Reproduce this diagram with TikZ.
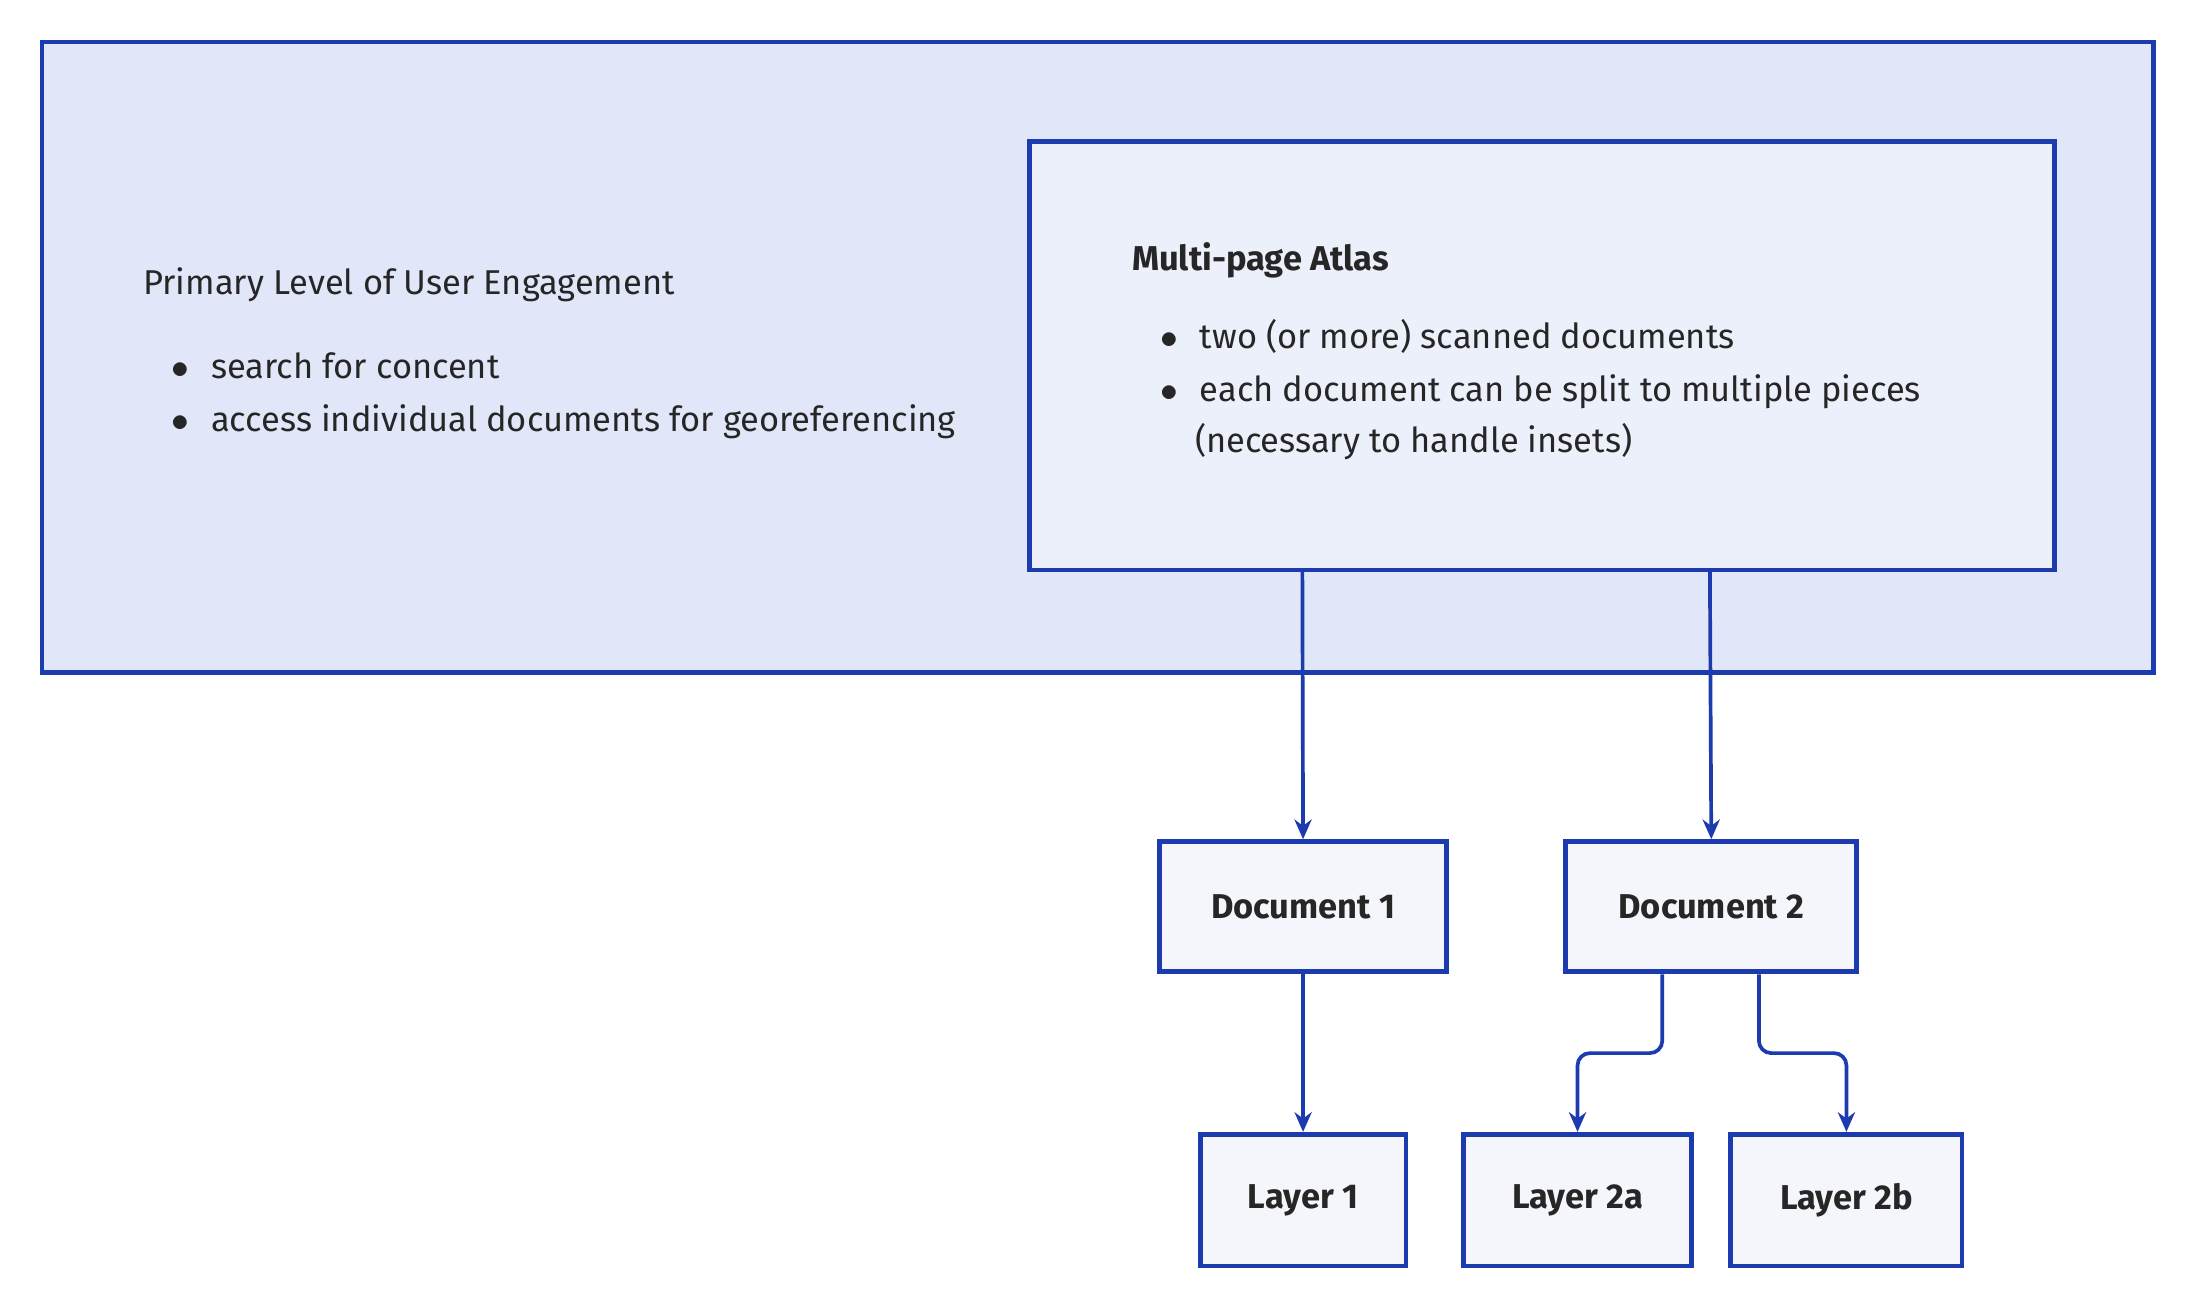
\documentclass[tikz,border=0pt]{standalone}
\usepackage{fontspec}
\setmainfont{Fira Sans}
\usetikzlibrary{arrows.meta}
\definecolor{stroke}{HTML}{1B3BAF}
\definecolor{outerfill}{HTML}{E1E7F9}
\definecolor{innerfill}{HTML}{ECF0FB}
\definecolor{boxfill}{HTML}{F4F6FC}
\tikzset{
 frame/.style={draw=stroke,line width=2pt},
 box/.style={frame,fill=boxfill,font=\fontsize{14}{16}\selectfont\bfseries,text=black!85},
 arr/.style={draw=stroke,line width=1.5pt,-{Stealth[length=8pt,width=7pt]},rounded corners=5pt},
 txt/.style={anchor=west,font=\fontsize{14}{17}\selectfont,text=black!85,inner sep=0pt},
}
\begin{document}
\begin{tikzpicture}[x=0.02cm,y=-0.02cm]
\useasboundingbox (0,0) rectangle (1561,931);
\fill[white] (0,0) rectangle (1561,931);
\draw[frame,fill=outerfill] (30,30) rectangle (1538,480);
\draw[frame,fill=innerfill] (735,101) rectangle (1467,407);
\coordinate (atl1) at (930,407);
\coordinate (atl2) at (1221,407);
\node[txt] (t0) at (102,203) {Primary Level of User Engagement};
\node[txt] (b1) at (122,261) {$\bullet$\hspace{9pt}search for concent};
\node[txt] (b2) at (122,301) {$\bullet$\hspace{9pt}access individual documents for georeferencing};
\node[txt,font=\fontsize{14}{17}\selectfont\bfseries] (a0) at (808,186) {Multi-page Atlas};
\node[txt] (a1) at (828,240) {$\bullet$\hspace{9pt}two (or more) scanned documents};
\node[txt] (a2) at (828,280) {$\bullet$\hspace{9pt}each document can be split to multiple pieces};
\node[txt] (a3) at (853,315) {(necessary to handle insets)};
\node[box,minimum width=205*0.02cm,minimum height=93*0.02cm] (d1) at (930.5,647.5) {Document 1};
\node[box,minimum width=208*0.02cm,minimum height=93*0.02cm] (d2) at (1222,647.5) {Document 2};
\node[box,minimum width=147*0.02cm,minimum height=94*0.02cm] (l1) at (930.5,857) {Layer 1};
\node[box,minimum width=163*0.02cm,minimum height=94*0.02cm] (l2a) at (1126.5,857) {Layer 2a};
\node[box,minimum width=165*0.02cm,minimum height=94*0.02cm] (l2b) at (1318.5,857) {Layer 2b};
\draw[arr] (atl1) -- (d1.north);
\draw[arr] (atl2) -- (d2.north);
\draw[arr] (d1.south) -- (l1.north);
\draw[arr] (d2.south -| 1187,0) |- (1126.5,752) -- (l2a.north);
\draw[arr] (d2.south -| 1256,0) |- (1318.5,752) -- (l2b.north);
\end{tikzpicture}
\end{document}
